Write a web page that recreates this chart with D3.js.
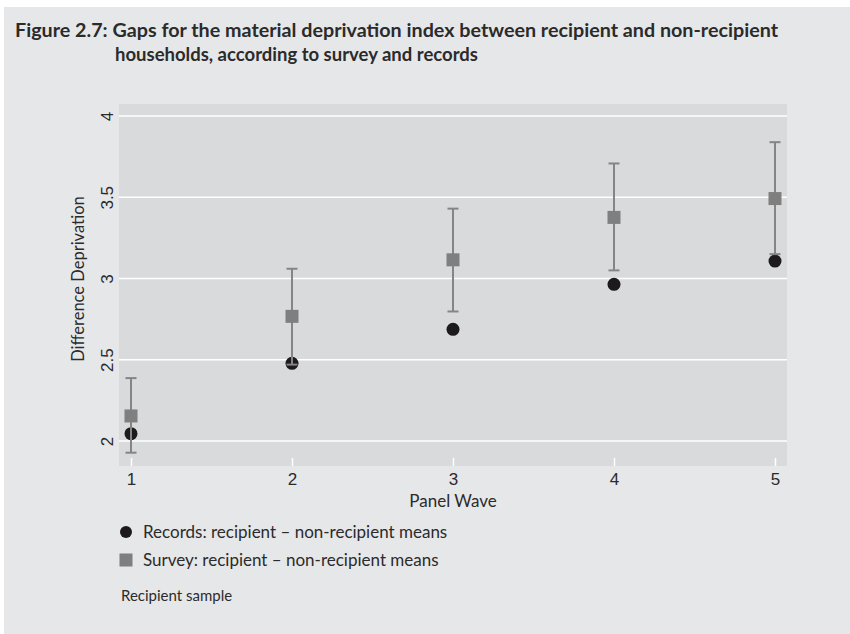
<!DOCTYPE html>
<html>
<head>
<meta charset="utf-8">
<script src="https://cdn.jsdelivr.net/npm/d3@7"></script>
<style>
  body { margin: 0; background: #fff; }
  svg { display: block; font-family: Lato, "Open Sans", sans-serif; }
</style>
</head>
<body>
<div id="chart"></div>
<script>
// values
const waves = [1, 2, 3, 4, 5];
const recordsMeans = [2.045, 2.478, 2.687, 2.964, 3.107];
const surveyMeans = [2.154, 2.767, 3.115, 3.376, 3.492];
const surveyLow = [1.928, 2.47, 2.797, 3.05, 3.15];
const surveyHigh = [2.387, 3.06, 3.43, 3.708, 3.839];
const yTicks = [2, 2.5, 3, 3.5, 4];

const titleLines = [
  "Figure 2.7: Gaps for the material deprivation index between recipient and non-recipient",
  "households, according to survey and records"
];
const legendLabels = [
  "Records: recipient \u2013 non-recipient means",
  "Survey: recipient \u2013 non-recipient means"
];

const W = 850, H = 634;
const plot = { left: 119, right: 787, top: 104, bottom: 466 };
const ink = "#2b2b2b";

const svg = d3.select("#chart").append("svg")
  .attr("width", W)
  .attr("height", H);

// outer panel
svg.append("rect")
  .attr("x", 4).attr("y", 7)
  .attr("width", W - 4).attr("height", H - 7)
  .attr("fill", "#e6e7e9");

// title
svg.append("text")
  .attr("x", 15).attr("y", 37)
  .attr("font-size", 18.5).attr("font-weight", "bold").attr("fill", ink)
  .attr("textLength", 763).attr("lengthAdjust", "spacingAndGlyphs")
  .text(titleLines[0]);
svg.append("text")
  .attr("x", 115).attr("y", 61)
  .attr("font-size", 18.5).attr("font-weight", "bold").attr("fill", ink)
  .text(titleLines[1]);

const x = d3.scaleLinear().domain([1, 5]).range([131, 775]);
const y = d3.scaleLinear().domain([1.846, 4.074]).range([plot.bottom, plot.top]);

// plot area
svg.append("rect")
  .attr("x", plot.left).attr("y", plot.top)
  .attr("width", plot.right - plot.left).attr("height", plot.bottom - plot.top)
  .attr("fill", "#d9dadc");

// gridlines
svg.append("g")
  .selectAll("line")
  .data(yTicks)
  .enter()
  .append("line")
  .attr("x1", plot.left).attr("x2", plot.right)
  .attr("y1", (d) => y(d)).attr("y2", (d) => y(d))
  .attr("stroke", "#fff").attr("stroke-width", 1.6);

// y axis, rotated labels
const yAxis = svg.append("g")
  .attr("transform", `translate(${plot.left},0)`)
  .call(d3.axisLeft(y).tickValues(yTicks).tickSize(0).tickFormat(d3.format("")));
yAxis.select(".domain").remove();
yAxis.selectAll("text")
  .attr("transform", "rotate(-90)")
  .attr("x", 0).attr("y", -6).attr("dy", 0)
  .attr("text-anchor", "middle")
  .attr("font-size", 17).attr("font-family", null).attr("fill", ink);

// x axis: white ticks inside the plot, labels below
const xAxis = svg.append("g")
  .attr("transform", `translate(0,${plot.bottom})`)
  .call(d3.axisBottom(x).tickValues(waves).tickSize(0).tickPadding(19).tickFormat(d3.format("d")));
xAxis.select(".domain").remove();
xAxis.selectAll(".tick line")
  .attr("y1", -8).attr("y2", 0)
  .attr("stroke", "#fff").attr("stroke-width", 1.5);
xAxis.selectAll("text")
  .attr("dy", 0)
  .attr("font-size", 17).attr("font-family", null).attr("fill", ink);

// axis titles
svg.append("text")
  .attr("transform", "translate(84,279) rotate(-90)")
  .attr("text-anchor", "middle")
  .attr("font-size", 16.5).attr("fill", ink)
  .text("Difference Deprivation");
svg.append("text")
  .attr("x", 453).attr("y", 507)
  .attr("text-anchor", "middle")
  .attr("font-size", 17).attr("fill", ink)
  .text("Panel Wave");

// records points
svg.append("g")
  .selectAll("circle")
  .data(waves)
  .enter()
  .append("circle")
  .attr("cx", (d) => x(d))
  .attr("cy", (d, i) => y(recordsMeans[i]))
  .attr("r", 6.5)
  .attr("fill", "#1c1a1b");

// survey confidence intervals
const bars = svg.append("g")
  .attr("stroke", "#858585").attr("stroke-width", 2);
bars.selectAll(".ci")
  .data(waves)
  .enter()
  .append("line")
  .attr("x1", (d) => x(d)).attr("x2", (d) => x(d))
  .attr("y1", (d, i) => y(surveyLow[i]))
  .attr("y2", (d, i) => y(surveyHigh[i]));
bars.selectAll(".cap-hi")
  .data(waves)
  .enter()
  .append("line")
  .attr("x1", (d) => x(d) - 5.5).attr("x2", (d) => x(d) + 5.5)
  .attr("y1", (d, i) => y(surveyHigh[i]))
  .attr("y2", (d, i) => y(surveyHigh[i]));
bars.selectAll(".cap-lo")
  .data(waves)
  .enter()
  .append("line")
  .attr("x1", (d) => x(d) - 5.5).attr("x2", (d) => x(d) + 5.5)
  .attr("y1", (d, i) => y(surveyLow[i]))
  .attr("y2", (d, i) => y(surveyLow[i]));

// survey points
svg.append("g")
  .selectAll("rect")
  .data(waves)
  .enter()
  .append("rect")
  .attr("x", (d) => x(d) - 6.5)
  .attr("y", (d, i) => y(surveyMeans[i]) - 6.5)
  .attr("width", 13).attr("height", 13)
  .attr("fill", "#7f7f7f");

// legend
svg.append("circle")
  .attr("cx", 126).attr("cy", 532).attr("r", 6)
  .attr("fill", "#1c1a1b");
svg.append("rect")
  .attr("x", 119.5).attr("y", 553.5).attr("width", 13).attr("height", 13)
  .attr("fill", "#7f7f7f");
svg.selectAll(".legend-label")
  .data(legendLabels)
  .enter()
  .append("text")
  .attr("class", "legend-label")
  .attr("x", 143)
  .attr("y", (d, i) => 538 + i * 28)
  .attr("font-size", 17).attr("fill", ink)
  .text((d) => d);

svg.append("text")
  .attr("x", 121).attr("y", 601)
  .attr("font-size", 15).attr("fill", ink)
  .text("Recipient sample");
</script>
</body>
</html>
